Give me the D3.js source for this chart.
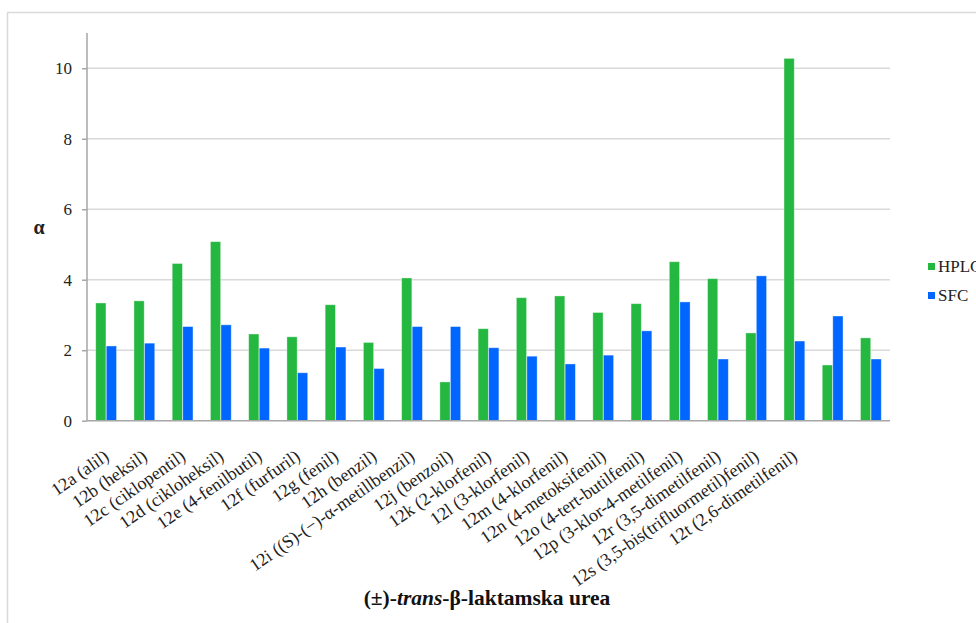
<!DOCTYPE html>
<html>
<head>
<meta charset="utf-8">
<script src="https://cdn.jsdelivr.net/npm/d3@7"></script>
<style>
  html, body { margin: 0; padding: 0; background: #fff; }
  svg { display: block; }
  svg text { font-family: "Liberation Serif", "Times New Roman", Times, serif; }
</style>
</head>
<body>
<svg id="chart" width="976" height="623"></svg>
<script>
const categories = [
  "12a (alil)", "12b (heksil)", "12c (ciklopentil)", "12d (cikloheksil)",
  "12e (4-fenilbutil)", "12f (furfuril)", "12g (fenil)", "12h (benzil)",
  "12i ((S)-(−)-α-metillbenzil)", "12j (benzoil)", "12k (2-klorfenil)",
  "12l (3-klorfenil)", "12m (4-klorfenil)", "12n (4-metoksifenil)",
  "12o (4-tert-butilfenil)", "12p (3-klor-4-metilfenil)", "12r (3,5-dimetilfenil)",
  "12s (3,5-bis(trifluormetil)fenil)", "12t (2,6-dimetilfenil)", "", ""
];
const seriesNames = ["HPLC", "SFC"];
const hplc = [3.34, 3.40, 4.46, 5.08, 2.46, 2.38, 3.29, 2.22, 4.05, 1.10, 2.61,
              3.49, 3.54, 3.07, 3.32, 4.51, 4.03, 2.49, 10.28, 1.58, 2.35];
const sfc  = [2.12, 2.20, 2.67, 2.72, 2.06, 1.36, 2.09, 1.48, 2.67, 2.67, 2.07,
              1.83, 1.61, 1.86, 2.55, 3.37, 1.75, 4.11, 2.26, 2.97, 1.75];
const yTicks = [0, 2, 4, 6, 8, 10];
const colors = ["#25b840", "#0066ff"];

(function () {
const svg = d3.select("#chart");

// outer border
svg.append("rect").attr("x", 7.5).attr("y", 12.5).attr("width", 1000).attr("height", 640)
  .attr("fill", "none").attr("stroke", "#d9d9d9").attr("stroke-width", 1.5);

const pLeft = 87, pRight = 890, pTop = 33, pBottom = 420.7;
const x = d3.scaleBand().domain(d3.range(categories.length)).range([pLeft, pRight])
  .paddingInner(0.44).paddingOuter(0.22);
const xs = d3.scaleBand().domain([0, 1]).range([0, x.bandwidth()]).padding(0.03);
const y = d3.scaleLinear().domain([0, 11]).range([pBottom, pTop]);

// gridlines
svg.append("g").selectAll("line").data(yTicks.filter(d => d > 0)).join("line")
  .attr("x1", pLeft).attr("x2", pRight)
  .attr("y1", d => y(d)).attr("y2", d => y(d))
  .attr("stroke", "#d9d9d9").attr("stroke-width", 1.5);

// y axis
const yAxis = svg.append("g").attr("transform", `translate(${pLeft},0)`)
  .call(d3.axisLeft(y).tickValues(yTicks).tickSize(5).tickPadding(10));
yAxis.attr("font-family", null);
yAxis.select(".domain").attr("stroke", "#a6a6a6").attr("stroke-width", 1.5)
  .attr("d", `M0,${pTop}V${pBottom}`);
yAxis.selectAll(".tick line").attr("stroke", "#a6a6a6").attr("stroke-width", 1.5);
yAxis.selectAll(".tick text").attr("font-size", 17).attr("fill", "#222");

// bars
const series = [hplc, sfc];
const groups = svg.append("g").selectAll("g").data(categories.map((c, i) => i)).join("g")
  .attr("transform", i => `translate(${x(i)},0)`);
groups.selectAll("rect").data(i => series.map((s, k) => ({k, v: s[i]}))).join("rect")
  .attr("x", d => xs(d.k)).attr("width", xs.bandwidth())
  .attr("y", d => y(d.v)).attr("height", d => y(0) - y(d.v))
  .attr("fill", d => colors[d.k])
  .attr("stroke", "rgba(255,255,255,0.45)").attr("stroke-width", 0.8);

// x axis line
svg.append("line").attr("x1", pLeft).attr("x2", pRight).attr("y1", pBottom).attr("y2", pBottom)
  .attr("stroke", "#a6a6a6").attr("stroke-width", 1.5);

// x labels
svg.append("g").selectAll("text").data(categories.map((c, i) => ({c, i}))).join("text")
  .attr("transform", d => `translate(${x(d.i) + x.bandwidth() / 2 + 4},459) rotate(-35)`)
  .attr("text-anchor", "end")
  .attr("font-size", 18).attr("fill", "#222")
  .text(d => d.c);

// y title
svg.append("text").attr("x", 39).attr("y", 234).attr("text-anchor", "middle")
  .attr("font-size", 20).attr("font-weight", "bold").attr("fill", "#222")
  .text("α");

// x title
const xt = svg.append("text").attr("x", 487).attr("y", 605).attr("text-anchor", "middle")
  .attr("font-size", 21.5).attr("font-weight", "bold").attr("fill", "#111");
xt.append("tspan").text("(±)-");
xt.append("tspan").attr("font-style", "italic").text("trans");
xt.append("tspan").text("-β-laktamska urea");

// legend
const leg = svg.append("g").selectAll("g").data(seriesNames.map((n, k) => ({n, k}))).join("g")
  .attr("transform", d => `translate(928,${263 + d.k * 29})`);
leg.append("rect").attr("width", 7).attr("height", 7).attr("fill", d => colors[d.k]);
leg.append("text").attr("x", 10).attr("y", 9)
  .attr("font-size", 17).attr("fill", "#222")
  .text(d => d.n);
})();
</script>
</body>
</html>
